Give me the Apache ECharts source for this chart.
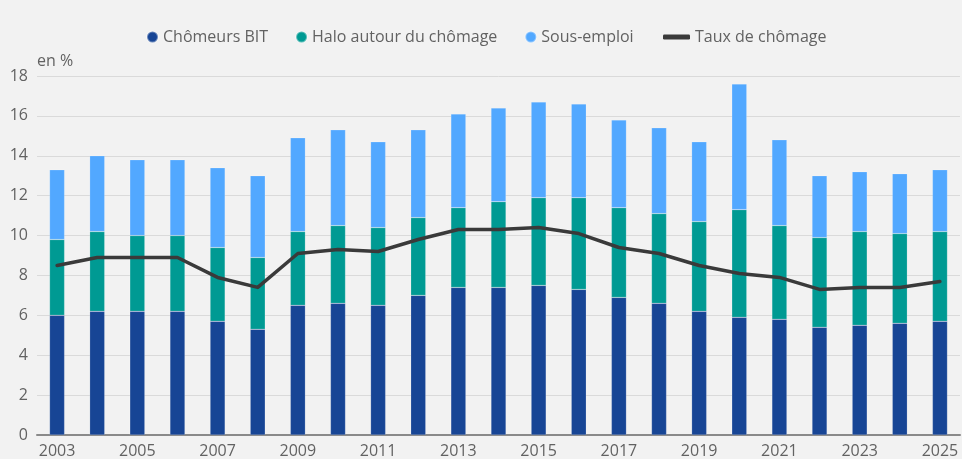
<!DOCTYPE html>
<html><head><meta charset="utf-8">
<script src="https://cdn.jsdelivr.net/npm/echarts@6/dist/echarts.min.js"></script>
<style>html,body{margin:0;padding:0;background:#f2f2f2}#c{width:962px;height:459px}</style>
</head><body><div id="c"></div>
<script>
const years = ['2003','2004','2005','2006','2007','2008','2009','2010','2011','2012','2013','2014','2015','2016','2017','2018','2019','2020','2021','2022','2023','2024','2025'];
const chomeursBIT = [6.0,6.2,6.2,6.2,5.7,5.3,6.5,6.6,6.5,7.0,7.4,7.4,7.5,7.3,6.9,6.6,6.2,5.9,5.8,5.4,5.5,5.6,5.7];
const halo = [3.8,4.0,3.8,3.8,3.7,3.6,3.7,3.9,3.9,3.9,4.0,4.3,4.4,4.6,4.5,4.5,4.5,5.4,4.7,4.5,4.7,4.5,4.5];
const sousEmploi = [3.5,3.8,3.8,3.8,4.0,4.1,4.7,4.8,4.3,4.4,4.7,4.7,4.8,4.7,4.4,4.3,4.0,6.3,4.3,3.1,3.0,3.0,3.1];
const tauxChomage = [8.5,8.9,8.9,8.9,7.9,7.4,9.1,9.3,9.2,9.8,10.3,10.3,10.4,10.1,9.4,9.1,8.5,8.1,7.9,7.3,7.4,7.4,7.7];
const names = ['Chômeurs BIT','Halo autour du chômage','Sous-emploi','Taux de chômage'];
const colors = ['#174595','#009a93','#52a8ff','#3a3a3a'];

const FONT = '"Open Sans", sans-serif';
const chart = echarts.init(document.getElementById('c'));
const barStyle = c => ({color:c, borderColor:'rgba(255,255,255,0.35)', borderWidth:0.5});
chart.setOption({
  backgroundColor:'#f2f2f2',
  animation:false,
  textStyle:{fontFamily:FONT},
  legend:[{
    left:141, top:24, itemWidth:11, itemHeight:11, itemGap:27, icon:'circle',
    textStyle:{fontSize:16, color:'#626262', fontFamily:FONT},
    data:names.slice(0,3)
  },{
    left:658, top:24, itemWidth:27, itemHeight:5, icon:'roundRect',
    textStyle:{fontSize:16, color:'#626262', fontFamily:FONT},
    data:[names[3]]
  }],
  grid:{left:37, right:2, top:76, bottom:22, containLabel:false},
  xAxis:{
    type:'category', data:years,
    axisLine:{lineStyle:{color:'#8a8a8a', width:2}},
    axisTick:{show:false},
    axisLabel:{interval:1, color:'#626262', fontSize:16, margin:8, fontFamily:FONT}
  },
  yAxis:{
    type:'value', min:0, max:18, interval:2,
    name:'en %', nameLocation:'end', nameGap:7,
    nameTextStyle:{color:'#626262', fontSize:16, align:'left', fontFamily:FONT},
    axisLine:{show:false}, axisTick:{show:false},
    axisLabel:{color:'#626262', fontSize:16, margin:9, fontFamily:FONT},
    splitLine:{lineStyle:{color:'#dadada', width:1}}
  },
  series:[
    {name:names[0], type:'bar', stack:'t', barWidth:15, data:chomeursBIT, itemStyle:barStyle(colors[0])},
    {name:names[1], type:'bar', stack:'t', barWidth:15, data:halo, itemStyle:barStyle(colors[1])},
    {name:names[2], type:'bar', stack:'t', barWidth:15, data:sousEmploi, itemStyle:barStyle(colors[2])},
    {name:names[3], type:'line', data:tauxChomage, symbol:'none', z:5,
     lineStyle:{color:colors[3], width:3.5, join:'round', cap:'round'}, itemStyle:{color:colors[3]}}
  ]
});
</script></body></html>
